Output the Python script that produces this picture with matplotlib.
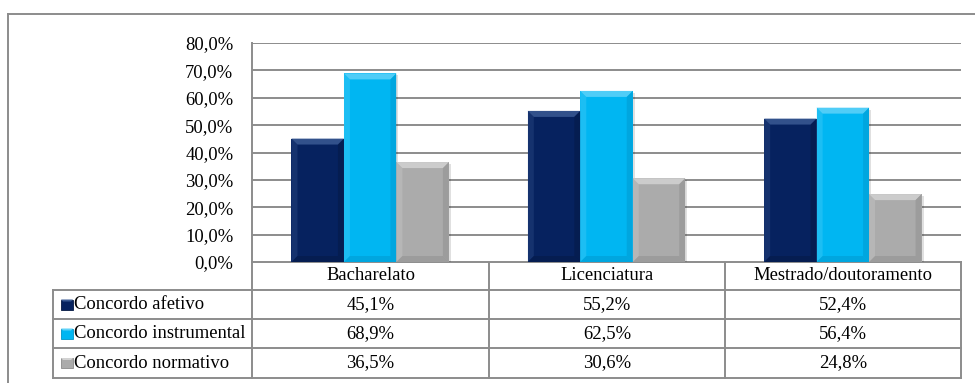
"""Agreement by education level: bar chart with data table."""

import matplotlib.pyplot as plt
from matplotlib.patches import Polygon, Rectangle
from matplotlib.lines import Line2D

categories = ["Bacharelato", "Licenciatura", "Mestrado/doutoramento"]
series_names = ["Concordo afetivo", "Concordo instrumental", "Concordo normativo"]
afetivo = [45.1, 55.2, 52.4]
instrumental = [68.9, 62.5, 56.4]
normativo = [36.5, 30.6, 24.8]
series_values = [afetivo, instrumental, normativo]
y_ticks = [0, 10, 20, 30, 40, 50, 60, 70, 80]

# face, light bevel, dark bevel
palette = [
    ("#06225f", "#3a5a94", "#041842"),
    ("#00b6f2", "#5fd2f8", "#0094c8"),
    ("#ababab", "#d2d2d2", "#8a8a8a"),
]

W, H = 975, 383
plt.rcParams["font.family"] = ["Liberation Serif", "DejaVu Serif"]
FS = 13.4
GRID = "#8c8c8c"

fig = plt.figure(figsize=(W / 100, H / 100), dpi=100)

# pixel layout of the plot area
px_left, px_right, px_top, px_zero = 252, 961, 43, 262
ax = fig.add_axes([px_left / W, 1 - px_zero / H,
                   (px_right - px_left) / W, (px_zero - px_top) / H])
ax.set_xlim(-0.5, 2.5)
ax.set_ylim(0, 80)

x_per_px = 3.0 / (px_right - px_left)
y_per_px = 80.0 / (px_zero - px_top)

bar_w = 0.222
bev_x = 6 * x_per_px
bev_y = 6 * y_per_px

for j, (vals, (face, light, dark)) in enumerate(zip(series_values, palette)):
    xs = [i + (j - 1) * bar_w for i in range(len(categories))]
    # soft drop shadow
    for x, v in zip(xs, vals):
        ax.add_patch(Rectangle((x - bar_w / 2 + 2 * x_per_px, 0), bar_w, v - 2 * y_per_px,
                               facecolor="#000000", alpha=0.12, edgecolor="none", zorder=2))
    ax.bar(xs, vals, width=bar_w, color=face, edgecolor="none", zorder=3)
    for x, v in zip(xs, vals):
        x0, x1 = x - bar_w / 2, x + bar_w / 2
        top = [(x0, v), (x1, v), (x1 - bev_x, v - bev_y), (x0 + bev_x, v - bev_y)]
        left = [(x0, v), (x0 + bev_x, v - bev_y), (x0 + bev_x, bev_y), (x0, 0)]
        right = [(x1, v), (x1 - bev_x, v - bev_y), (x1 - bev_x, bev_y), (x1, 0)]
        bottom = [(x0, 0), (x1, 0), (x1 - bev_x, bev_y), (x0 + bev_x, bev_y)]
        ax.add_patch(Polygon(top, closed=True, facecolor=light, alpha=0.85,
                             edgecolor="none", zorder=4))
        ax.add_patch(Polygon(left, closed=True, facecolor=light, alpha=0.3,
                             edgecolor="none", zorder=4))
        ax.add_patch(Polygon(right, closed=True, facecolor=dark, alpha=0.45,
                             edgecolor="none", zorder=4))
        ax.add_patch(Polygon(bottom, closed=True, facecolor=dark, alpha=0.45,
                             edgecolor="none", zorder=4))

ax.set_yticks(y_ticks)
ax.set_yticklabels([f"{t:.1f}%".replace(".", ",") for t in y_ticks], fontsize=FS)
ax.tick_params(axis="y", length=0, pad=13.5)
ax.set_xticks([])
ax.yaxis.grid(True, color=GRID, lw=1.4, zorder=0)
ax.set_axisbelow(True)
for side in ["top", "right", "bottom"]:
    ax.spines[side].set_visible(False)
ax.spines["left"].set_color(GRID)
ax.spines["left"].set_linewidth(1.4)

# overlay in pixel coordinates for the data table and frame
ov = fig.add_axes([0, 0, 1, 1], zorder=-1)
ov.set_xlim(0, W)
ov.set_ylim(H, 0)
ov.axis("off")
ov.patch.set_alpha(0)


def hline(x0, x1, y):
    ov.add_line(Line2D([x0, x1], [y, y], color=GRID, lw=1.4))


def vline(x, y0, y1):
    ov.add_line(Line2D([x, x], [y0, y1], color=GRID, lw=1.4))


# outer chart frame
hline(8, W, 13.5)
vline(8, 13.5, H)

col_edges = [252, 489, 725, 961]
row_edges = [262, 290, 319, 348, 378]
tab_left = 53

hline(col_edges[0], col_edges[-1], row_edges[0])
for y in row_edges[1:]:
    hline(tab_left, col_edges[-1], y)
for x in col_edges:
    vline(x, row_edges[0], row_edges[-1])
vline(tab_left, row_edges[1], row_edges[-1])

for c, name in enumerate(categories):
    cx = (col_edges[c] + col_edges[c + 1]) / 2
    ov.text(cx, (row_edges[0] + row_edges[1]) / 2, name, ha="center", va="center", fontsize=FS)

for r, (name, vals, (face, light, dark)) in enumerate(zip(series_names, series_values, palette)):
    cy = (row_edges[r + 1] + row_edges[r + 2]) / 2
    # legend key with bevel
    ov.add_patch(Rectangle((61, cy - 5), 12, 10, facecolor=face, edgecolor=dark, lw=0.6))
    ov.add_patch(Polygon([(61, cy - 5), (73, cy - 5), (71, cy - 3), (63, cy - 3)],
                         closed=True, facecolor=light, edgecolor="none"))
    ov.text(74, cy, name, ha="left", va="center", fontsize=FS)
    for c, v in enumerate(vals):
        cx = (col_edges[c] + col_edges[c + 1]) / 2
        ov.text(cx, cy, f"{v:.1f}%".replace(".", ","), ha="center", va="center", fontsize=FS)

fig.savefig("out.png", dpi=100)
plt.close(fig)
